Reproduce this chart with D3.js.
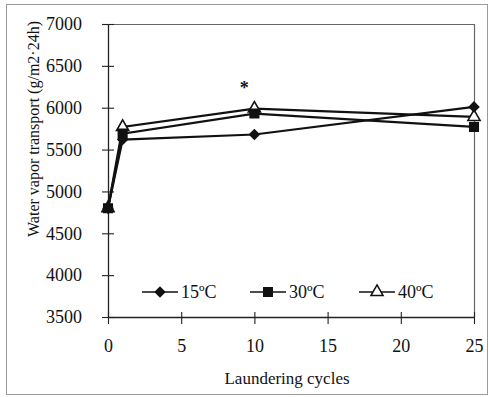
<!DOCTYPE html>
<html>
<head>
<meta charset="utf-8">
<script src="https://cdn.jsdelivr.net/npm/d3@7"></script>
<style>
  html, body { margin: 0; padding: 0; background: #fff; }
  svg { display: block; }
  svg text { font-family: "Liberation Serif", "Times New Roman", serif !important; fill: #111; }
</style>
</head>
<body>
<svg id="chart" width="490" height="397"></svg>
<script>
// Laundering cycles on the x axis
const cycles = [0, 1, 10, 25];
// Water vapor transport (g/m2·24h) per wash temperature
const series15 = [4800, 5620, 5680, 6010];
const series30 = [4800, 5690, 5930, 5770];
const series40 = [4800, 5770, 5990, 5890];
const seriesNames = ["15ºC", "30ºC", "40ºC"];
const xTicks = [0, 5, 10, 15, 20, 25];
const yTicks = [3500, 4000, 4500, 5000, 5500, 6000, 6500, 7000];
// significance mark placed above the 10-cycle group
const starPoint = { x: 9.3, y: 6270 };

const svg = d3.select("#chart");
const plotLeft = 108, plotRight = 474, plotTop = 24, plotBottom = 317;
const serif = "'Liberation Serif', 'Times New Roman', serif";

const x = d3.scaleLinear().domain([0, 25]).range([plotLeft, plotRight]);
const y = d3.scaleLinear().domain([3500, 7000]).range([plotBottom, plotTop]);

// outer figure border
svg.append("rect")
  .attr("x", 6.5).attr("y", 4.5).attr("width", 481).attr("height", 390)
  .attr("fill", "none").attr("stroke", "#9a9a9a").attr("stroke-width", 1);

// plot frame (top and right edges)
svg.append("path")
  .attr("d", `M${plotLeft},${plotTop + 0.5}H${plotRight + 0.5}V${plotBottom}`)
  .attr("fill", "none").attr("stroke", "#666").attr("stroke-width", 1.2);

// y axis with crossing ticks
const yAxis = d3.axisLeft(y).tickValues(yTicks).tickSize(0).tickPadding(26).tickFormat(d3.format("d"));
const gy = svg.append("g").attr("transform", `translate(${plotLeft},0)`).call(yAxis)
  .attr("font-family", serif);
gy.select(".domain").attr("stroke", "#222").attr("stroke-width", 1.3);
gy.selectAll(".tick").append("line")
  .attr("x1", -6).attr("x2", 6).attr("stroke", "#222").attr("stroke-width", 1.1);
gy.selectAll(".tick text").style("font-size", "18px").attr("fill", "#111");

// x axis with crossing ticks
const xAxis = d3.axisBottom(x).tickValues(xTicks).tickSize(0).tickPadding(22).tickFormat(d3.format("d"));
const gx = svg.append("g").attr("transform", `translate(0,${plotBottom})`).call(xAxis)
  .attr("font-family", serif);
gx.select(".domain").attr("stroke", "#222").attr("stroke-width", 1.3);
gx.selectAll(".tick").append("line")
  .attr("y1", -5).attr("y2", 7).attr("stroke", "#222").attr("stroke-width", 1.1);
gx.selectAll(".tick text").style("font-size", "18px").attr("fill", "#111");

// axis titles
svg.append("text")
  .attr("x", 287).attr("y", 384)
  .attr("text-anchor", "middle").style("font-size", "17px")
  .text("Laundering cycles");
svg.append("text")
  .attr("transform", "translate(39,129) rotate(-90)")
  .attr("text-anchor", "middle").style("font-size", "16px")
  .text("Water vapor transport (g/m2·24h)");

const diamond = d3.symbol().type(d3.symbolSquare).size(44);
const allSeries = [
  { name: seriesNames[0], values: series15, shape: d3.symbolSquare, size: 44, rotate: 45, fill: "#111" },
  { name: seriesNames[1], values: series30, shape: d3.symbolSquare, size: 72, rotate: 0, fill: "#111" },
  { name: seriesNames[2], values: series40, shape: d3.symbolTriangle, size: 64, rotate: 0, fill: "#fff" }
];

const line = d3.line().x((d, i) => x(cycles[i])).y(d => y(d));

allSeries.forEach(s => {
  svg.append("path").datum(s.values)
    .attr("d", line).attr("fill", "none")
    .attr("stroke", "#111").attr("stroke-width", 2.2);
});

// markers: open triangles first so the filled ones sit on top
[allSeries[2], allSeries[1], allSeries[0]].forEach(s => {
  svg.append("g").selectAll("path").data(s.values).join("path")
    .attr("transform", (d, i) => `translate(${x(cycles[i])},${y(d)}) rotate(${s.rotate})`)
    .attr("d", d3.symbol().type(s.shape).size(s.size))
    .attr("fill", s.fill).attr("stroke", "#111").attr("stroke-width", 1.6);
});

// asterisk
svg.append("text")
  .attr("x", x(starPoint.x)).attr("y", y(starPoint.y) + 9)
  .attr("text-anchor", "middle").style("font-size", "18px").style("font-weight", "bold")
  .text("*");

// legend
const legendX = [142, 250, 359];
const legend = svg.append("g");
allSeries.forEach((s, i) => {
  const g = legend.append("g").attr("transform", `translate(${legendX[i]},292)`);
  g.append("line").attr("x1", 0).attr("x2", 36).attr("stroke", "#111").attr("stroke-width", 1.5);
  g.append("path").attr("transform", `translate(18,0) rotate(${s.rotate})`)
    .attr("d", d3.symbol().type(s.shape).size(s.size))
    .attr("fill", s.fill).attr("stroke", "#111").attr("stroke-width", 1.5);
  g.append("text").attr("x", 39).attr("y", 6).style("font-size", "18px").text(s.name);
});
</script>
</body>
</html>
